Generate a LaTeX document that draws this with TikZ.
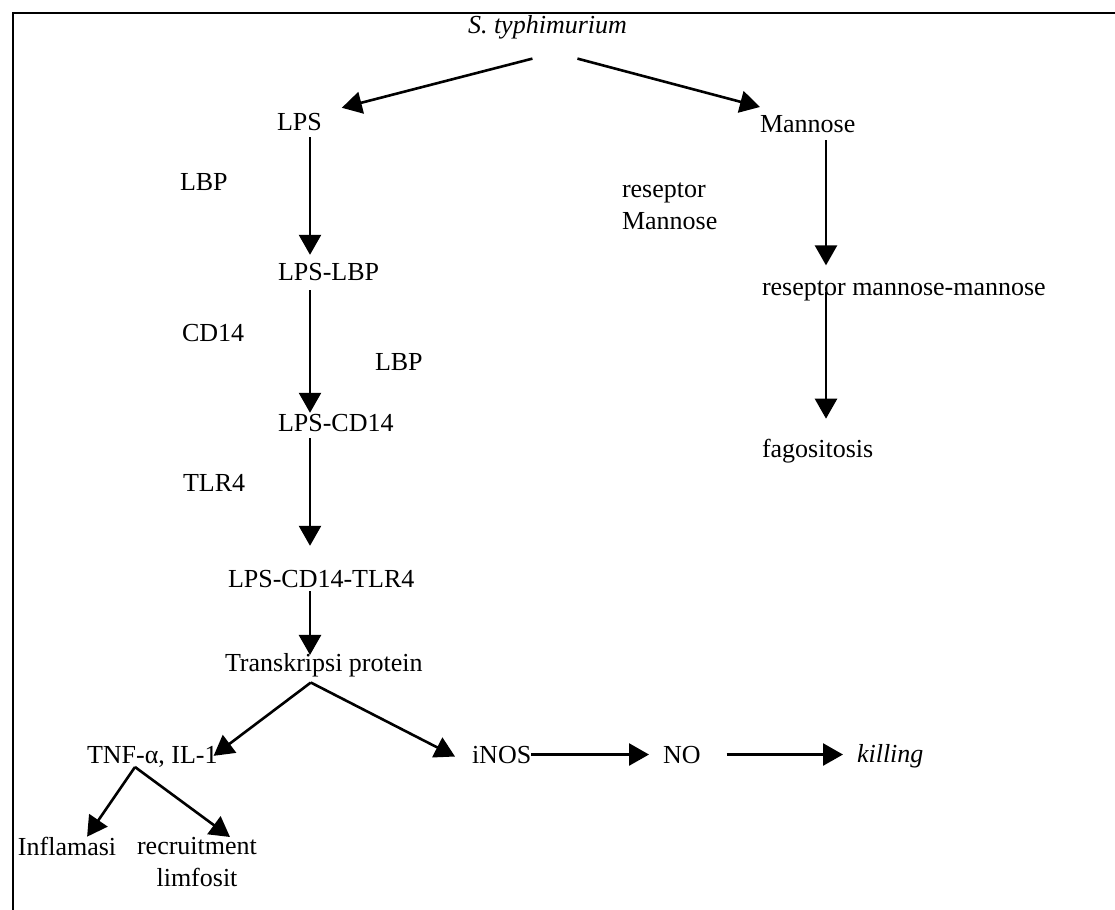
\documentclass[tikz,border=0pt]{standalone}
\usepackage{fontspec}
\setmainfont{Liberation Serif}
\usetikzlibrary{arrows.meta}
\begin{document}
\begin{tikzpicture}[x=0.5pt,y=-0.5pt,
  lbl/.style={inner sep=0pt,outer sep=0pt,anchor=base west,font=\fontsize{13}{16}\selectfont},
  arr/.style={-{Triangle[length=10pt,width=11pt]},line width=1.3pt}]
  \useasboundingbox (0,0) rectangle (1115,910);
  \draw[line width=1pt] (13,910) -- (13,13) -- (1115,13);
  \coordinate (spine) at (310,0);
  \coordinate (mspine) at (826,0);
  \node[lbl] (styph) at (468,33) {\itshape S. typhimurium};
  \node[lbl] (lps) at (277,130) {LPS};
  \node[lbl] (mannose) at (760,132) {Mannose};
  \node[lbl] (lbpA) at (180,190) {LBP};
  \node[lbl,anchor=north west,align=left] (resm) at (622,183) {reseptor\\Mannose};
  \node[lbl] (lpslbp) at (278,280) {LPS-LBP};
  \node[lbl] (resmm) at (762,295) {reseptor mannose-mannose};
  \node[lbl] (cd14) at (182,341) {CD14};
  \node[lbl] (lbpB) at (375,370) {LBP};
  \node[lbl] (lpscd14) at (278,431) {LPS-CD14};
  \node[lbl] (fago) at (762,457) {fagositosis};
  \node[lbl] (tlr4) at (183,491) {TLR4};
  \node[lbl] (tlrcomplex) at (228,587) {LPS-CD14-TLR4};
  \node[lbl] (transk) at (225,671) {Transkripsi protein};
  \node[lbl] (tnf) at (87,763) {TNF-α, IL-1};
  \node[lbl] (inos) at (472,763) {iNOS};
  \node[lbl] (no) at (663,763) {NO};
  \node[lbl] (killing) at (857,762) {\itshape killing};
  \node[lbl] (infl) at (18,855) {Inflamasi};
  \node[lbl,anchor=north,align=center] (recruit) at (197,837) {recruitment\\limfosit};
  \draw[arr] ([xshift=-7.5pt,yshift=-10pt]styph.south) -- ([xshift=10pt,yshift=2.5pt]lps.north east);
  \draw[arr] ([xshift=15pt,yshift=-10pt]styph.south) -- ([yshift=4pt]mannose.north west);
  \draw[arr,shorten <=3.5pt,shorten >=4pt] (lps.south -| spine) -- (lpslbp.north -| spine);
  \draw[arr,shorten <=5pt,shorten >=0.5pt] (lpslbp.south -| spine) -- (lpscd14.north -| spine);
  \draw[arr,shorten <=3.5pt,shorten >=12pt] (lpscd14.south -| spine) -- (tlrcomplex.north -| spine);
  \draw[arr,shorten <=2pt,shorten >=-1pt] (tlrcomplex.south -| spine) -- (transk.north -| spine);
  \draw[arr] ([xshift=-6.5pt,yshift=-3pt]transk.south) -- ([xshift=-2pt,yshift=-5pt]tnf.north east);
  \draw[arr] ([xshift=-6.5pt,yshift=-3pt]transk.south) -- ([xshift=-8.5pt,yshift=-1pt]inos.west);
  \draw[arr,shorten >=7pt] (inos.east) -- (no.west);
  \draw[arr,shorten <=13pt,shorten >=7pt] (no.east) -- (killing.west |- no.east);
  \draw[arr] ([xshift=24pt]tnf.south west) -- ([xshift=10pt]infl.north);
  \draw[arr] ([xshift=24pt]tnf.south west) -- ([xshift=16.5pt]recruit.north);
  \draw[arr,shorten <=4pt,shorten >=7.5pt] (mannose.south -| mspine) -- (resmm.north -| mspine);
  \draw[arr,shorten <=6pt,shorten >=10pt] (resmm.north -| mspine) -- (fago.north -| mspine);
\end{tikzpicture}
\end{document}
